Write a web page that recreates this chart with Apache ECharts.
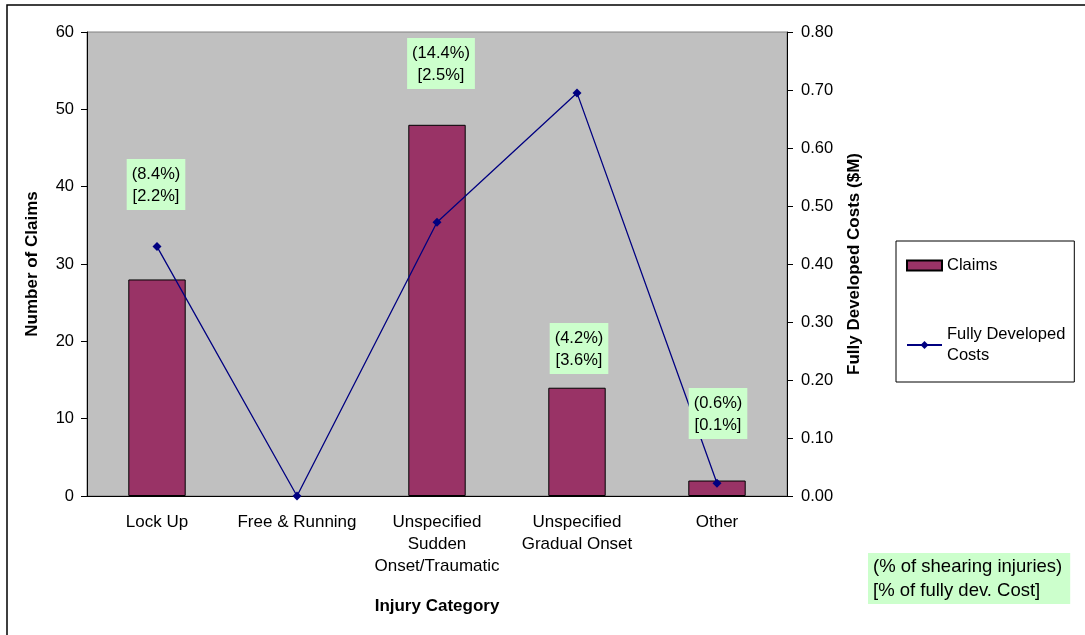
<!DOCTYPE html>
<html>
<head>
<meta charset="utf-8">
<script src="https://cdn.jsdelivr.net/npm/echarts@6/dist/echarts.min.js"></script>
<style>
  html, body { margin: 0; padding: 0; background: #fff; }
  #chart { width: 1085px; height: 635px; }
</style>
</head>
<body>
<div id="chart"></div>
<script>
  // data
  var categories = ['Lock Up', 'Free & Running', 'Unspecified\nSudden\nOnset/Traumatic', 'Unspecified\nGradual Onset', 'Other'];
  var claims = [28, 0, 48, 14, 2];
  var costs = [0.43, 0.0, 0.472, 0.695, 0.022];
  var shareInjuries = ['(8.4%)', null, '(14.4%)', '(4.2%)', '(0.6%)'];
  var shareCost = ['[2.2%]', null, '[2.5%]', '[3.6%]', '[0.1%]'];
  var leftTicks = { min: 0, max: 60, interval: 10 };
  var rightTicks = { min: 0, max: 0.8, interval: 0.1 };

  // where the green note boxes sit (center x, top y)
  var notePos = [[156, 159], null, [441, 38], [579, 323], [718, 388]];

  var font = '"Liberation Sans", Arial, sans-serif';
  var fs = 16.5;
  var myChart = echarts.init(document.getElementById('chart'));

  var graphics = [
    { type: 'rect', shape: { x: 7, y: 5, width: 1090, height: 640 }, style: { fill: 'none', stroke: '#000', lineWidth: 1.5 }, z: 0 }
  ];
  notePos.forEach(function (p, i) {
    if (!p) return;
    graphics.push({
      type: 'text', x: p[0], y: p[1], z: 10,
      style: {
        text: shareInjuries[i] + '\n' + shareCost[i],
        font: fs + 'px ' + font, fill: '#000', align: 'center', verticalAlign: 'top',
        lineHeight: 22, backgroundColor: '#CCFFCC', padding: [4, 5, 3, 5]
      }
    });
  });
  // key for the note boxes
  graphics.push({
    type: 'text', left: 868, top: 553, z: 10,
    style: {
      text: '(% of shearing injuries)\n[% of fully dev. Cost]',
      font: '18.5px ' + font, fill: '#000', lineHeight: 24,
      backgroundColor: '#CCFFCC', padding: [2, 8, 1, 5]
    }
  });

  var option = {
    animation: false,
    textStyle: { fontFamily: font },
    grid: {
      left: 87, right: 298, top: 32, bottom: 139,
      show: true, backgroundColor: '#C0C0C0', borderColor: '#808080', borderWidth: 1
    },
    legend: {
      orient: 'vertical',
      left: 896, top: 241,
      backgroundColor: '#fff',
      borderColor: '#000', borderWidth: 1,
      padding: [14, 9, 16, 10],
      itemGap: 48,
      itemWidth: 35, itemHeight: 10,
      textStyle: { fontSize: fs, color: '#000', fontFamily: font, lineHeight: 21 },
      formatter: function (name) {
        return name === 'Fully Developed Costs' ? 'Fully Developed\nCosts' : name;
      },
      data: [{ name: 'Claims', icon: 'rect' }, { name: 'Fully Developed Costs' }]
    },
    xAxis: {
      type: 'category',
      data: categories,
      name: 'Injury Category',
      nameLocation: 'middle',
      nameGap: 102,
      nameTextStyle: { fontSize: 17, fontWeight: 'bold', color: '#000' },
      axisLine: { lineStyle: { color: '#000' } },
      axisTick: { inside: true, length: 6, lineStyle: { color: '#000' } },
      axisLabel: { fontSize: 17, color: '#000', lineHeight: 22, margin: 15, interval: 0 }
    },
    yAxis: [
      {
        type: 'value',
        min: leftTicks.min, max: leftTicks.max, interval: leftTicks.interval,
        name: 'Number of Claims',
        nameLocation: 'middle',
        nameGap: 46,
        nameRotate: 90,
        nameTextStyle: { fontSize: 17, fontWeight: 'bold', color: '#000' },
        axisLine: { show: true, lineStyle: { color: '#000' } },
        axisTick: { show: true, length: 6, lineStyle: { color: '#000' } },
        axisLabel: { fontSize: fs, color: '#000', margin: 13 },
        splitLine: { show: false }
      },
      {
        type: 'value',
        min: rightTicks.min, max: rightTicks.max, interval: rightTicks.interval,
        name: 'Fully Developed Costs ($M)',
        nameLocation: 'middle',
        nameGap: 59,
        nameRotate: 90,
        nameTextStyle: { fontSize: 17, fontWeight: 'bold', color: '#000' },
        axisLine: { show: true, lineStyle: { color: '#000' } },
        axisTick: { show: true, length: 6, lineStyle: { color: '#000' } },
        axisLabel: { fontSize: fs, color: '#000', margin: 14, formatter: function (v) { return v.toFixed(2); } },
        splitLine: { show: false }
      }
    ],
    series: [
      {
        name: 'Claims',
        type: 'bar',
        data: claims.map(function (v) {
          return { value: v, itemStyle: { borderWidth: v === 0 ? 0 : 1 } };
        }),
        barWidth: '41%',
        itemStyle: { color: '#993366', borderColor: '#000', borderWidth: 1 }
      },
      {
        name: 'Fully Developed Costs',
        type: 'line',
        yAxisIndex: 1,
        data: costs,
        symbol: 'diamond',
        symbolSize: 9,
        lineStyle: { color: '#000080', width: 1.3 },
        itemStyle: { color: '#000080' },
        z: 5
      }
    ],
    graphic: graphics
  };

  myChart.setOption(option);
</script>
</body>
</html>
